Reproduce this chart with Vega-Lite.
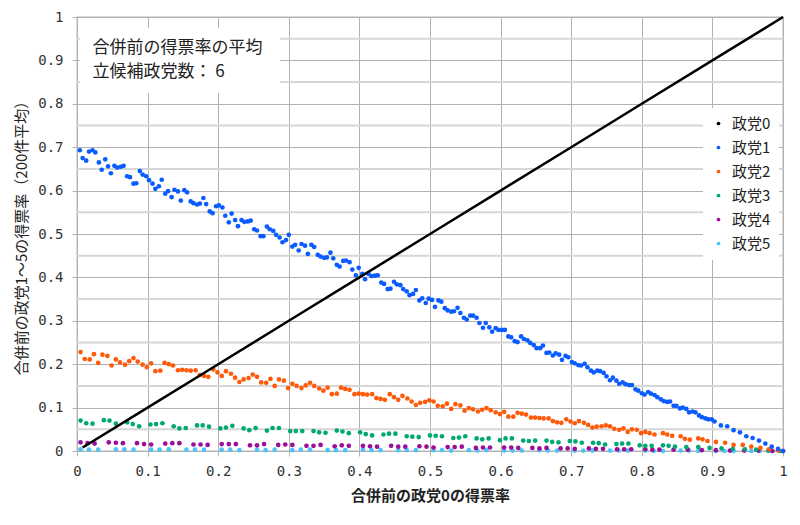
{
"$schema": "https://vega.github.io/schema/vega-lite/v6.json",
"width": 706,
"height": 434,
"autosize": {"type": "none"},
"padding": {"left": 77, "top": 17, "right": 17, "bottom": 74},
"background": "white",
"config": {"view": {"stroke": "#cfcfcf", "strokeWidth": 1.5}, "font": "Noto Sans CJK JP"},
"datasets": {
"minor": [{"mx": 0, "mx2": 1, "my": 0.05}, {"mx": 0, "mx2": 1, "my": 0.15}, {"mx": 0, "mx2": 1, "my": 0.25}, {"mx": 0, "mx2": 1, "my": 0.35}, {"mx": 0, "mx2": 1, "my": 0.45}, {"mx": 0, "mx2": 1, "my": 0.55}, {"mx": 0, "mx2": 1, "my": 0.65}, {"mx": 0, "mx2": 1, "my": 0.75}, {"mx": 0, "mx2": 1, "my": 0.85}, {"mx": 0, "mx2": 1, "my": 0.95}],
"box": [{"x": 0.004, "x2": 0.288, "y": 0.825, "y2": 0.975}],
"txt": [{"x": 0.022, "y": 0.929, "t": "合併前の得票率の平均"}, {"x": 0.022, "y": 0.873, "t": "立候補政党数： 6"}],
"line0": [{"x": 0.008, "y": 0.008}, {"x": 0.1, "y": 0.1}, {"x": 0.2, "y": 0.2}, {"x": 0.3, "y": 0.3}, {"x": 0.4, "y": 0.4}, {"x": 0.5, "y": 0.5}, {"x": 0.6, "y": 0.6}, {"x": 0.7, "y": 0.7}, {"x": 0.8, "y": 0.8}, {"x": 0.9, "y": 0.9}, {"x": 1.0, "y": 1.0}],
"pts": [
{"s":"政党5","x":0.005,"y":0.004},{"s":"政党5","x":0.030,"y":0.003},{"s":"政党5","x":0.055,"y":0.004},{"s":"政党5","x":0.080,"y":0.003},{"s":"政党5","x":0.105,"y":0.003},{"s":"政党5","x":0.130,"y":0.004},{"s":"政党5","x":0.155,"y":0.003},{"s":"政党5","x":0.180,"y":0.003},{"s":"政党5","x":0.205,"y":0.003},{"s":"政党5","x":0.230,"y":0.002},{"s":"政党5","x":0.255,"y":0.003},{"s":"政党5","x":0.280,"y":0.003},{"s":"政党5","x":0.305,"y":0.002},{"s":"政党5","x":0.330,"y":0.003},{"s":"政党5","x":0.355,"y":0.002},{"s":"政党5","x":0.380,"y":0.002},{"s":"政党5","x":0.405,"y":0.003},{"s":"政党5","x":0.430,"y":0.002},{"s":"政党5","x":0.455,"y":0.002},{"s":"政党5","x":0.480,"y":0.002},{"s":"政党5","x":0.505,"y":0.002},{"s":"政党5","x":0.530,"y":0.001},{"s":"政党5","x":0.555,"y":0.002},{"s":"政党5","x":0.580,"y":0.002},{"s":"政党5","x":0.605,"y":0.001},{"s":"政党5","x":0.630,"y":0.001},{"s":"政党5","x":0.655,"y":0.002},{"s":"政党5","x":0.680,"y":0.001},{"s":"政党5","x":0.705,"y":0.001},{"s":"政党5","x":0.730,"y":0.001},{"s":"政党5","x":0.755,"y":0.001},{"s":"政党5","x":0.780,"y":0.001},{"s":"政党5","x":0.805,"y":0.001},{"s":"政党5","x":0.830,"y":0.0},{"s":"政党5","x":0.855,"y":0.001},{"s":"政党5","x":0.880,"y":0.0},{"s":"政党5","x":0.905,"y":0.0},{"s":"政党5","x":0.930,"y":0.0},{"s":"政党5","x":0.955,"y":0.0},{"s":"政党5","x":0.980,"y":0.0},{"s":"政党5","x":1.0,"y":0.0},
{"s":"政党5","x":0.017,"y":0.003},{"s":"政党5","x":0.067,"y":0.004},{"s":"政党5","x":0.117,"y":0.003},{"s":"政党5","x":0.167,"y":0.003},{"s":"政党5","x":0.217,"y":0.003},{"s":"政党5","x":0.267,"y":0.002},{"s":"政党5","x":0.317,"y":0.003},{"s":"政党5","x":0.367,"y":0.002},{"s":"政党5","x":0.417,"y":0.002},{"s":"政党5","x":0.467,"y":0.002},{"s":"政党5","x":0.517,"y":0.002},{"s":"政党5","x":0.567,"y":0.001},{"s":"政党5","x":0.617,"y":0.001},{"s":"政党5","x":0.667,"y":0.001},{"s":"政党5","x":0.717,"y":0.001},{"s":"政党5","x":0.767,"y":0.001},{"s":"政党5","x":0.817,"y":0.0},{"s":"政党5","x":0.867,"y":0.001},{"s":"政党5","x":0.917,"y":0.0},{"s":"政党5","x":0.967,"y":0.0},
{"s":"政党4","x":0.005,"y":0.020},{"s":"政党4","x":0.025,"y":0.017},{"s":"政党4","x":0.045,"y":0.020},{"s":"政党4","x":0.065,"y":0.018},{"s":"政党4","x":0.085,"y":0.018},{"s":"政党4","x":0.105,"y":0.015},{"s":"政党4","x":0.125,"y":0.017},{"s":"政党4","x":0.145,"y":0.018},{"s":"政党4","x":0.165,"y":0.015},{"s":"政党4","x":0.185,"y":0.014},{"s":"政党4","x":0.205,"y":0.016},{"s":"政党4","x":0.225,"y":0.016},{"s":"政党4","x":0.245,"y":0.013},{"s":"政党4","x":0.265,"y":0.016},{"s":"政党4","x":0.285,"y":0.014},{"s":"政党4","x":0.305,"y":0.014},{"s":"政党4","x":0.325,"y":0.012},{"s":"政党4","x":0.345,"y":0.014},{"s":"政党4","x":0.365,"y":0.011},{"s":"政党4","x":0.385,"y":0.012},{"s":"政党4","x":0.405,"y":0.012},{"s":"政党4","x":0.425,"y":0.010},{"s":"政党4","x":0.445,"y":0.012},{"s":"政党4","x":0.465,"y":0.010},{"s":"政党4","x":0.485,"y":0.011},{"s":"政党4","x":0.505,"y":0.008},{"s":"政党4","x":0.525,"y":0.009},{"s":"政党4","x":0.545,"y":0.010},{"s":"政党4","x":0.565,"y":0.007},{"s":"政党4","x":0.585,"y":0.008},{"s":"政党4","x":0.605,"y":0.008},{"s":"政党4","x":0.625,"y":0.007},{"s":"政党4","x":0.645,"y":0.007},{"s":"政党4","x":0.665,"y":0.007},{"s":"政党4","x":0.685,"y":0.006},{"s":"政党4","x":0.705,"y":0.005},{"s":"政党4","x":0.725,"y":0.006},{"s":"政党4","x":0.745,"y":0.005},{"s":"政党4","x":0.765,"y":0.004},{"s":"政党4","x":0.785,"y":0.004},{"s":"政党4","x":0.805,"y":0.004},{"s":"政党4","x":0.825,"y":0.003},{"s":"政党4","x":0.845,"y":0.003},{"s":"政党4","x":0.865,"y":0.003},{"s":"政党4","x":0.885,"y":0.002},{"s":"政党4","x":0.905,"y":0.002},{"s":"政党4","x":0.925,"y":0.001},{"s":"政党4","x":0.945,"y":0.001},{"s":"政党4","x":0.965,"y":0.001},{"s":"政党4","x":0.985,"y":0.0},{"s":"政党4","x":1.0,"y":0.0},
{"s":"政党4","x":0.015,"y":0.018},{"s":"政党4","x":0.055,"y":0.019},{"s":"政党4","x":0.095,"y":0.016},{"s":"政党4","x":0.135,"y":0.018},{"s":"政党4","x":0.175,"y":0.015},{"s":"政党4","x":0.215,"y":0.016},{"s":"政党4","x":0.255,"y":0.013},{"s":"政党4","x":0.295,"y":0.015},{"s":"政党4","x":0.335,"y":0.012},{"s":"政党4","x":0.375,"y":0.013},{"s":"政党4","x":0.415,"y":0.011},{"s":"政党4","x":0.455,"y":0.010},{"s":"政党4","x":0.495,"y":0.010},{"s":"政党4","x":0.535,"y":0.009},{"s":"政党4","x":0.575,"y":0.008},{"s":"政党4","x":0.615,"y":0.008},{"s":"政党4","x":0.655,"y":0.006},{"s":"政党4","x":0.695,"y":0.006},{"s":"政党4","x":0.735,"y":0.005},{"s":"政党4","x":0.775,"y":0.004},{"s":"政党4","x":0.815,"y":0.003},
{"s":"政党3","x":0.005,"y":0.070},{"s":"政党3","x":0.022,"y":0.063},{"s":"政党3","x":0.038,"y":0.071},{"s":"政党3","x":0.055,"y":0.063},{"s":"政党3","x":0.071,"y":0.066},{"s":"政党3","x":0.088,"y":0.057},{"s":"政党3","x":0.104,"y":0.061},{"s":"政党3","x":0.121,"y":0.064},{"s":"政党3","x":0.137,"y":0.057},{"s":"政党3","x":0.154,"y":0.053},{"s":"政党3","x":0.170,"y":0.059},{"s":"政党3","x":0.187,"y":0.056},{"s":"政党3","x":0.203,"y":0.052},{"s":"政党3","x":0.220,"y":0.058},{"s":"政党3","x":0.236,"y":0.052},{"s":"政党3","x":0.253,"y":0.053},{"s":"政党3","x":0.269,"y":0.047},{"s":"政党3","x":0.286,"y":0.053},{"s":"政党3","x":0.302,"y":0.046},{"s":"政党3","x":0.319,"y":0.046},{"s":"政党3","x":0.335,"y":0.046},{"s":"政党3","x":0.352,"y":0.042},{"s":"政党3","x":0.368,"y":0.047},{"s":"政党3","x":0.385,"y":0.041},{"s":"政党3","x":0.401,"y":0.043},{"s":"政党3","x":0.418,"y":0.036},{"s":"政党3","x":0.434,"y":0.038},{"s":"政党3","x":0.451,"y":0.040},{"s":"政党3","x":0.467,"y":0.034},{"s":"政党3","x":0.484,"y":0.032},{"s":"政党3","x":0.500,"y":0.036},{"s":"政党3","x":0.517,"y":0.034},{"s":"政党3","x":0.533,"y":0.030},{"s":"政党3","x":0.550,"y":0.034},{"s":"政党3","x":0.566,"y":0.029},{"s":"政党3","x":0.583,"y":0.029},{"s":"政党3","x":0.599,"y":0.025},{"s":"政党3","x":0.616,"y":0.029},{"s":"政党3","x":0.632,"y":0.024},{"s":"政党3","x":0.649,"y":0.024},{"s":"政党3","x":0.665,"y":0.024},{"s":"政党3","x":0.682,"y":0.020},{"s":"政党3","x":0.698,"y":0.023},{"s":"政党3","x":0.715,"y":0.019},{"s":"政党3","x":0.731,"y":0.019},{"s":"政党3","x":0.748,"y":0.015},{"s":"政党3","x":0.764,"y":0.016},{"s":"政党3","x":0.781,"y":0.017},{"s":"政党3","x":0.797,"y":0.013},{"s":"政党3","x":0.814,"y":0.012},{"s":"政党3","x":0.830,"y":0.013},{"s":"政党3","x":0.847,"y":0.010},{"s":"政党3","x":0.863,"y":0.009},{"s":"政党3","x":0.880,"y":0.009},{"s":"政党3","x":0.896,"y":0.007},{"s":"政党3","x":0.913,"y":0.006},{"s":"政党3","x":0.929,"y":0.005},{"s":"政党3","x":0.946,"y":0.004},{"s":"政党3","x":0.962,"y":0.003},{"s":"政党3","x":0.979,"y":0.001},{"s":"政党3","x":0.995,"y":0.0},
{"s":"政党3","x":0.013,"y":0.064},{"s":"政党3","x":0.046,"y":0.070},{"s":"政党3","x":0.079,"y":0.062},{"s":"政党3","x":0.112,"y":0.062},{"s":"政党3","x":0.145,"y":0.052},{"s":"政党3","x":0.178,"y":0.059},{"s":"政党3","x":0.211,"y":0.054},{"s":"政党3","x":0.244,"y":0.048},{"s":"政党3","x":0.277,"y":0.053},{"s":"政党3","x":0.310,"y":0.046},{"s":"政党3","x":0.343,"y":0.043},{"s":"政党3","x":0.376,"y":0.045},{"s":"政党3","x":0.409,"y":0.039},{"s":"政党3","x":0.442,"y":0.040},{"s":"政党3","x":0.475,"y":0.033},{"s":"政党3","x":0.508,"y":0.035},{"s":"政党3","x":0.541,"y":0.031},{"s":"政党3","x":0.574,"y":0.027},{"s":"政党3","x":0.607,"y":0.029},{"s":"政党3","x":0.640,"y":0.023},{"s":"政党3","x":0.673,"y":0.021},{"s":"政党3","x":0.706,"y":0.022},{"s":"政党3","x":0.739,"y":0.018},{"s":"政党3","x":0.772,"y":0.017},{"s":"政党3","x":0.805,"y":0.012},{"s":"政党3","x":0.838,"y":0.012},
{"s":"政党2","x":0.005,"y":0.228},{"s":"政党2","x":0.018,"y":0.211},{"s":"政党2","x":0.030,"y":0.203},{"s":"政党2","x":0.043,"y":0.219},{"s":"政党2","x":0.055,"y":0.211},{"s":"政党2","x":0.068,"y":0.199},{"s":"政党2","x":0.080,"y":0.214},{"s":"政党2","x":0.093,"y":0.199},{"s":"政党2","x":0.105,"y":0.202},{"s":"政党2","x":0.118,"y":0.185},{"s":"政党2","x":0.130,"y":0.200},{"s":"政党2","x":0.143,"y":0.186},{"s":"政党2","x":0.155,"y":0.186},{"s":"政党2","x":0.168,"y":0.186},{"s":"政党2","x":0.180,"y":0.173},{"s":"政党2","x":0.193,"y":0.188},{"s":"政党2","x":0.205,"y":0.173},{"s":"政党2","x":0.218,"y":0.178},{"s":"政党2","x":0.230,"y":0.159},{"s":"政党2","x":0.243,"y":0.168},{"s":"政党2","x":0.255,"y":0.171},{"s":"政党2","x":0.268,"y":0.157},{"s":"政党2","x":0.280,"y":0.150},{"s":"政党2","x":0.293,"y":0.162},{"s":"政党2","x":0.305,"y":0.155},{"s":"政党2","x":0.318,"y":0.145},{"s":"政党2","x":0.330,"y":0.157},{"s":"政党2","x":0.343,"y":0.144},{"s":"政党2","x":0.355,"y":0.146},{"s":"政党2","x":0.368,"y":0.132},{"s":"政党2","x":0.380,"y":0.143},{"s":"政党2","x":0.393,"y":0.131},{"s":"政党2","x":0.405,"y":0.131},{"s":"政党2","x":0.418,"y":0.131},{"s":"政党2","x":0.430,"y":0.120},{"s":"政党2","x":0.443,"y":0.131},{"s":"政党2","x":0.455,"y":0.118},{"s":"政党2","x":0.468,"y":0.121},{"s":"政党2","x":0.480,"y":0.106},{"s":"政党2","x":0.493,"y":0.113},{"s":"政党2","x":0.505,"y":0.114},{"s":"政党2","x":0.518,"y":0.103},{"s":"政党2","x":0.530,"y":0.097},{"s":"政党2","x":0.543,"y":0.105},{"s":"政党2","x":0.555,"y":0.099},{"s":"政党2","x":0.568,"y":0.091},{"s":"政党2","x":0.580,"y":0.099},{"s":"政党2","x":0.593,"y":0.089},{"s":"政党2","x":0.605,"y":0.090},{"s":"政党2","x":0.618,"y":0.079},{"s":"政党2","x":0.630,"y":0.086},{"s":"政党2","x":0.643,"y":0.077},{"s":"政党2","x":0.655,"y":0.076},{"s":"政党2","x":0.668,"y":0.075},{"s":"政党2","x":0.680,"y":0.066},{"s":"政党2","x":0.693,"y":0.073},{"s":"政党2","x":0.705,"y":0.064},{"s":"政党2","x":0.718,"y":0.065},{"s":"政党2","x":0.730,"y":0.054},{"s":"政党2","x":0.743,"y":0.057},{"s":"政党2","x":0.755,"y":0.057},{"s":"政党2","x":0.768,"y":0.049},{"s":"政党2","x":0.780,"y":0.044},{"s":"政党2","x":0.793,"y":0.049},{"s":"政党2","x":0.805,"y":0.044},{"s":"政党2","x":0.818,"y":0.038},{"s":"政党2","x":0.830,"y":0.041},{"s":"政党2","x":0.843,"y":0.035},{"s":"政党2","x":0.855,"y":0.034},{"s":"政党2","x":0.868,"y":0.026},{"s":"政党2","x":0.880,"y":0.029},{"s":"政党2","x":0.893,"y":0.023},{"s":"政党2","x":0.905,"y":0.021},{"s":"政党2","x":0.918,"y":0.019},{"s":"政党2","x":0.930,"y":0.014},{"s":"政党2","x":0.943,"y":0.014},{"s":"政党2","x":0.955,"y":0.010},{"s":"政党2","x":0.968,"y":0.007},{"s":"政党2","x":0.980,"y":0.004},{"s":"政党2","x":0.993,"y":0.002},{"s":"政党2","x":1.0,"y":0.0},
{"s":"政党2","x":0.011,"y":0.212},{"s":"政党2","x":0.036,"y":0.222},{"s":"政党2","x":0.061,"y":0.204},{"s":"政党2","x":0.086,"y":0.206},{"s":"政党2","x":0.111,"y":0.184},{"s":"政党2","x":0.136,"y":0.197},{"s":"政党2","x":0.161,"y":0.185},{"s":"政党2","x":0.186,"y":0.171},{"s":"政党2","x":0.211,"y":0.184},{"s":"政党2","x":0.236,"y":0.165},{"s":"政党2","x":0.261,"y":0.158},{"s":"政党2","x":0.286,"y":0.165},{"s":"政党2","x":0.311,"y":0.150},{"s":"政党2","x":0.336,"y":0.150},{"s":"政党2","x":0.361,"y":0.131},{"s":"政党2","x":0.386,"y":0.141},{"s":"政党2","x":0.411,"y":0.130},{"s":"政党2","x":0.436,"y":0.118},{"s":"政党2","x":0.461,"y":0.127},{"s":"政党2","x":0.486,"y":0.111},{"s":"政党2","x":0.511,"y":0.104},{"s":"政党2","x":0.536,"y":0.108},{"s":"政党2","x":0.561,"y":0.096},{"s":"政党2","x":0.586,"y":0.094},{"s":"政党2","x":0.611,"y":0.079},{"s":"政党2","x":0.636,"y":0.084},{"s":"政党2","x":0.661,"y":0.075},{"s":"政党2","x":0.686,"y":0.065},{"s":"政党2","x":0.711,"y":0.069},{"s":"政党2","x":0.736,"y":0.056},{"s":"政党2","x":0.761,"y":0.051},{"s":"政党2","x":0.786,"y":0.050},{"s":"政党2","x":0.811,"y":0.041},{"s":"政党2","x":0.836,"y":0.038},{"s":"政党2","x":0.861,"y":0.028},{"s":"政党2","x":0.886,"y":0.027},
{"s":"政党2","x":0.024,"y":0.223},{"s":"政党2","x":0.049,"y":0.197},{"s":"政党2","x":0.074,"y":0.207},{"s":"政党2","x":0.099,"y":0.193},{"s":"政党2","x":0.124,"y":0.203},{"s":"政党2","x":0.149,"y":0.187},{"s":"政党2","x":0.174,"y":0.175},{"s":"政党2","x":0.199,"y":0.181},{"s":"政党2","x":0.224,"y":0.169},{"s":"政党2","x":0.249,"y":0.176},{"s":"政党2","x":0.274,"y":0.166},{"s":"政党2","x":0.299,"y":0.145},{"s":"政党2","x":0.324,"y":0.151},{"s":"政党2","x":0.349,"y":0.139},{"s":"政党2","x":0.374,"y":0.146},{"s":"政党2","x":0.399,"y":0.132},{"s":"政党2","x":0.424,"y":0.122},{"s":"政党2","x":0.449,"y":0.124},{"s":"政党2","x":0.474,"y":0.114},{"s":"政党2","x":0.499,"y":0.117},{"s":"政党2","x":0.524,"y":0.109},{"s":"政党2","x":0.549,"y":0.093},{"s":"政党2","x":0.574,"y":0.095},{"s":"政党2","x":0.599,"y":0.085},{"s":"政党2","x":0.624,"y":0.088},{"s":"政党2","x":0.649,"y":0.077},{"s":"政党2","x":0.674,"y":0.069},{"s":"政党2","x":0.699,"y":0.068},{"s":"政党2","x":0.724,"y":0.060},{"s":"政党2","x":0.749,"y":0.059},{"s":"政党2","x":0.774,"y":0.052},{"s":"政党2","x":0.799,"y":0.041},
{"s":"政党1","x":0.004,"y":0.693},{"s":"政党1","x":0.013,"y":0.669},{"s":"政党1","x":0.022,"y":0.693},{"s":"政党1","x":0.031,"y":0.665},{"s":"政党1","x":0.040,"y":0.672},{"s":"政党1","x":0.048,"y":0.640},{"s":"政党1","x":0.057,"y":0.653},{"s":"政党1","x":0.066,"y":0.657},{"s":"政党1","x":0.075,"y":0.631},{"s":"政党1","x":0.084,"y":0.617},{"s":"政党1","x":0.093,"y":0.637},{"s":"政党1","x":0.102,"y":0.624},{"s":"政党1","x":0.111,"y":0.604},{"s":"政党1","x":0.120,"y":0.625},{"s":"政党1","x":0.129,"y":0.599},{"s":"政党1","x":0.138,"y":0.602},{"s":"政党1","x":0.147,"y":0.577},{"s":"政党1","x":0.156,"y":0.596},{"s":"政党1","x":0.165,"y":0.571},{"s":"政党1","x":0.174,"y":0.570},{"s":"政党1","x":0.183,"y":0.569},{"s":"政党1","x":0.192,"y":0.548},{"s":"政党1","x":0.201,"y":0.566},{"s":"政党1","x":0.210,"y":0.542},{"s":"政党1","x":0.219,"y":0.547},{"s":"政党1","x":0.228,"y":0.518},{"s":"政党1","x":0.237,"y":0.528},{"s":"政党1","x":0.246,"y":0.531},{"s":"政党1","x":0.255,"y":0.508},{"s":"政党1","x":0.264,"y":0.495},{"s":"政党1","x":0.273,"y":0.511},{"s":"政党1","x":0.282,"y":0.498},{"s":"政党1","x":0.291,"y":0.481},{"s":"政党1","x":0.300,"y":0.498},{"s":"政党1","x":0.309,"y":0.475},{"s":"政党1","x":0.318,"y":0.477},{"s":"政党1","x":0.327,"y":0.454},{"s":"政党1","x":0.336,"y":0.470},{"s":"政党1","x":0.345,"y":0.448},{"s":"政党1","x":0.354,"y":0.446},{"s":"政党1","x":0.363,"y":0.444},{"s":"政党1","x":0.372,"y":0.425},{"s":"政党1","x":0.381,"y":0.439},{"s":"政党1","x":0.390,"y":0.418},{"s":"政党1","x":0.399,"y":0.422},{"s":"政党1","x":0.408,"y":0.396},{"s":"政党1","x":0.417,"y":0.403},{"s":"政党1","x":0.426,"y":0.405},{"s":"政党1","x":0.435,"y":0.385},{"s":"政党1","x":0.444,"y":0.374},{"s":"政党1","x":0.453,"y":0.384},{"s":"政党1","x":0.462,"y":0.373},{"s":"政党1","x":0.471,"y":0.359},{"s":"政党1","x":0.480,"y":0.371},{"s":"政党1","x":0.489,"y":0.352},{"s":"政党1","x":0.498,"y":0.351},{"s":"政党1","x":0.507,"y":0.332},{"s":"政党1","x":0.516,"y":0.344},{"s":"政党1","x":0.525,"y":0.324},{"s":"政党1","x":0.534,"y":0.322},{"s":"政党1","x":0.543,"y":0.318},{"s":"政党1","x":0.552,"y":0.303},{"s":"政党1","x":0.561,"y":0.312},{"s":"政党1","x":0.570,"y":0.295},{"s":"政党1","x":0.579,"y":0.295},{"s":"政党1","x":0.588,"y":0.275},{"s":"政党1","x":0.597,"y":0.279},{"s":"政党1","x":0.606,"y":0.279},{"s":"政党1","x":0.615,"y":0.262},{"s":"政党1","x":0.624,"y":0.251},{"s":"政党1","x":0.633,"y":0.258},{"s":"政党1","x":0.642,"y":0.249},{"s":"政党1","x":0.651,"y":0.237},{"s":"政党1","x":0.660,"y":0.243},{"s":"政党1","x":0.669,"y":0.227},{"s":"政党1","x":0.678,"y":0.225},{"s":"政党1","x":0.687,"y":0.210},{"s":"政党1","x":0.696,"y":0.216},{"s":"政党1","x":0.705,"y":0.202},{"s":"政党1","x":0.714,"y":0.197},{"s":"政党1","x":0.723,"y":0.193},{"s":"政党1","x":0.732,"y":0.181},{"s":"政党1","x":0.741,"y":0.184},{"s":"政党1","x":0.750,"y":0.172},{"s":"政党1","x":0.759,"y":0.169},{"s":"政党1","x":0.768,"y":0.155},{"s":"政党1","x":0.777,"y":0.154},{"s":"政党1","x":0.786,"y":0.152},{"s":"政党1","x":0.795,"y":0.139},{"s":"政党1","x":0.804,"y":0.130},{"s":"政党1","x":0.813,"y":0.132},{"s":"政党1","x":0.822,"y":0.124},{"s":"政党1","x":0.831,"y":0.115},{"s":"政党1","x":0.840,"y":0.114},{"s":"政党1","x":0.849,"y":0.104},{"s":"政党1","x":0.858,"y":0.100},{"s":"政党1","x":0.867,"y":0.089},{"s":"政党1","x":0.876,"y":0.089},{"s":"政党1","x":0.885,"y":0.078},{"s":"政党1","x":0.894,"y":0.073},{"s":"政党1","x":0.903,"y":0.068},{"s":"政党1","x":0.912,"y":0.059},{"s":"政党1","x":0.921,"y":0.057},{"s":"政党1","x":0.930,"y":0.048},{"s":"政党1","x":0.939,"y":0.043},{"s":"政党1","x":0.948,"y":0.034},{"s":"政党1","x":0.957,"y":0.030},{"s":"政党1","x":0.966,"y":0.024},{"s":"政党1","x":0.975,"y":0.017},{"s":"政党1","x":0.984,"y":0.010},{"s":"政党1","x":0.993,"y":0.005},{"s":"政党1","x":1.0,"y":0.0},
{"s":"政党1","x":0.008,"y":0.675},{"s":"政党1","x":0.026,"y":0.688},{"s":"政党1","x":0.044,"y":0.656},{"s":"政党1","x":0.062,"y":0.655},{"s":"政党1","x":0.080,"y":0.616},{"s":"政党1","x":0.098,"y":0.633},{"s":"政党1","x":0.116,"y":0.610},{"s":"政党1","x":0.134,"y":0.585},{"s":"政党1","x":0.152,"y":0.601},{"s":"政党1","x":0.170,"y":0.568},{"s":"政党1","x":0.188,"y":0.552},{"s":"政党1","x":0.206,"y":0.561},{"s":"政党1","x":0.224,"y":0.532},{"s":"政党1","x":0.242,"y":0.529},{"s":"政党1","x":0.260,"y":0.495},{"s":"政党1","x":0.278,"y":0.507},{"s":"政党1","x":0.296,"y":0.486},{"s":"政党1","x":0.314,"y":0.462},{"s":"政党1","x":0.332,"y":0.475},{"s":"政党1","x":0.350,"y":0.445},{"s":"政党1","x":0.368,"y":0.429},{"s":"政党1","x":0.386,"y":0.435},{"s":"政党1","x":0.404,"y":0.408},{"s":"政党1","x":0.422,"y":0.404},{"s":"政党1","x":0.440,"y":0.373},{"s":"政党1","x":0.458,"y":0.382},{"s":"政党1","x":0.476,"y":0.362},{"s":"政党1","x":0.494,"y":0.341},{"s":"政党1","x":0.512,"y":0.347},{"s":"政党1","x":0.530,"y":0.321},{"s":"政党1","x":0.548,"y":0.307},{"s":"政党1","x":0.566,"y":0.307},{"s":"政党1","x":0.584,"y":0.285},{"s":"政党1","x":0.602,"y":0.279},{"s":"政党1","x":0.620,"y":0.253},{"s":"政党1","x":0.638,"y":0.255},{"s":"政党1","x":0.656,"y":0.237},{"s":"政党1","x":0.674,"y":0.220},{"s":"政党1","x":0.692,"y":0.219},{"s":"政党1","x":0.710,"y":0.198},{"s":"政党1","x":0.728,"y":0.185},{"s":"政党1","x":0.746,"y":0.180},{"s":"政党1","x":0.764,"y":0.162},{"s":"政党1","x":0.782,"y":0.152},{"s":"政党1","x":0.800,"y":0.133},{"s":"政党1","x":0.818,"y":0.129},{"s":"政党1","x":0.836,"y":0.113},{"s":"政党1","x":0.854,"y":0.098},{"s":"政党1","x":0.872,"y":0.091},{"s":"政党1","x":0.890,"y":0.075},
{"s":"政党1","x":0.017,"y":0.690},{"s":"政党1","x":0.035,"y":0.648},{"s":"政党1","x":0.053,"y":0.657},{"s":"政党1","x":0.071,"y":0.633},{"s":"政党1","x":0.089,"y":0.645},{"s":"政党1","x":0.107,"y":0.616},{"s":"政党1","x":0.125,"y":0.593},{"s":"政党1","x":0.143,"y":0.598},{"s":"政党1","x":0.161,"y":0.575},{"s":"政党1","x":0.179,"y":0.583},{"s":"政党1","x":0.197,"y":0.564},{"s":"政党1","x":0.215,"y":0.527},{"s":"政党1","x":0.233,"y":0.532},{"s":"政党1","x":0.251,"y":0.511},{"s":"政党1","x":0.269,"y":0.517},{"s":"政党1","x":0.287,"y":0.492},{"s":"政党1","x":0.305,"y":0.471},{"s":"政党1","x":0.323,"y":0.473},{"s":"政党1","x":0.341,"y":0.452},{"s":"政党1","x":0.359,"y":0.457},{"s":"政党1","x":0.377,"y":0.438},{"s":"政党1","x":0.395,"y":0.405},{"s":"政党1","x":0.413,"y":0.408},{"s":"政党1","x":0.431,"y":0.388},{"s":"政党1","x":0.449,"y":0.390},{"s":"政党1","x":0.467,"y":0.368},{"s":"政党1","x":0.485,"y":0.347},{"s":"政党1","x":0.503,"y":0.348},{"s":"政党1","x":0.521,"y":0.329},{"s":"政党1","x":0.539,"y":0.330},{"s":"政党1","x":0.557,"y":0.312},{"s":"政党1","x":0.575,"y":0.284},{"s":"政党1","x":0.593,"y":0.283},{"s":"政党1","x":0.611,"y":0.264},{"s":"政党1","x":0.629,"y":0.264},{"s":"政党1","x":0.647,"y":0.244},{"s":"政党1","x":0.665,"y":0.226},{"s":"政党1","x":0.683,"y":0.222},{"s":"政党1","x":0.701,"y":0.205},{"s":"政党1","x":0.719,"y":0.201},{"s":"政党1","x":0.737,"y":0.185},{"s":"政党1","x":0.755,"y":0.163},{"s":"政党1","x":0.773,"y":0.158},{"s":"政党1","x":0.791,"y":0.142},{"s":"政党1","x":0.809,"y":0.136},{"s":"政党1","x":0.827,"y":0.119},{"s":"政党1","x":0.845,"y":0.104},{"s":"政党1","x":0.863,"y":0.097},{"s":"政党1","x":0.881,"y":0.082},{"s":"政党1","x":0.899,"y":0.073}
]
},
"layer": [
  {"data": {"name": "minor"}, "mark": {"type": "rule", "color": "#d6d6d6", "strokeWidth": 2},
   "encoding": {"x": {"field": "mx", "type": "quantitative", "scale": {"domain": [0, 1], "nice": false}},
                "x2": {"field": "mx2"},
                "y": {"field": "my", "type": "quantitative", "scale": {"domain": [0, 1], "nice": false}}}},
  {"data": {"name": "box"}, "mark": {"type": "rect", "fill": "white"},
   "encoding": {"x": {"field": "x", "type": "quantitative"}, "x2": {"field": "x2"}, "y": {"field": "y", "type": "quantitative"}, "y2": {"field": "y2"}}},
  {"data": {"name": "txt"}, "mark": {"type": "text", "align": "left", "baseline": "middle", "fontSize": 17, "font": "Noto Sans CJK JP", "color": "#222"},
   "encoding": {"x": {"field": "x", "type": "quantitative"}, "y": {"field": "y", "type": "quantitative"}, "text": {"field": "t"}}},
  {"data": {"name": "pts"}, "mark": {"type": "circle", "size": 22, "opacity": 1},
   "encoding": {
     "x": {"field": "x", "type": "quantitative",
       "axis": {"title": "合併前の政党0の得票率", "values": [0,0.1,0.2,0.3,0.4,0.5,0.6,0.7,0.8,0.9,1],
         "labelExpr": "round(datum.value*10)==0 ? '0' : round(datum.value*10)==10 ? '1' : '0.' + round(datum.value*10)",
         "grid": true, "gridColor": "#b2b2b2", "gridWidth": 1, "domainColor": "#b2b2b2", "tickColor": "#b2b2b2", "tickSize": 5,
         "labelFont": "DejaVu Sans Mono", "labelFontSize": 14, "labelColor": "#333", "labelPadding": 8, "labelFlush": false, "labelOverlap": false,
         "titleFont": "Noto Sans CJK JP", "titleFontSize": 15, "titleFontWeight": "bold", "titleColor": "#222", "titlePadding": 10}},
     "y": {"field": "y", "type": "quantitative",
       "axis": {"title": "合併前の政党1～5の得票率（200件平均）", "values": [0,0.1,0.2,0.3,0.4,0.5,0.6,0.7,0.8,0.9,1],
         "labelExpr": "round(datum.value*10)==0 ? '0' : round(datum.value*10)==10 ? '1' : '0.' + round(datum.value*10)",
         "grid": true, "gridColor": "#b2b2b2", "gridWidth": 1, "domainColor": "#b2b2b2", "tickColor": "#b2b2b2", "tickSize": 5,
         "labelFont": "DejaVu Sans Mono", "labelFontSize": 14, "labelColor": "#333", "labelPadding": 9, "labelFlush": false, "labelOverlap": false,
         "titleFont": "Noto Sans CJK JP", "titleFontSize": 15, "titleFontWeight": "normal", "titleColor": "#222", "titlePadding": 8}},
     "color": {"field": "s", "type": "nominal",
     "scale": {"domain": ["政党0","政党1","政党2","政党3","政党4","政党5"], "range": ["#000000","#0a5cff","#ff5a0a","#00a874","#9a0e9a","#4fc3f7"]},
     "legend": {"orient": "none", "legendX": 626, "legendY": 91, "title": null, "fillColor": "white", "padding": 8,
       "symbolType": "circle", "symbolSize": 14, "labelFont": "Noto Sans CJK JP", "labelFontSize": 15, "labelColor": "#222", "rowPadding": 8, "labelOffset": 6}}}},
  {"data": {"name": "line0"}, "mark": {"type": "line", "color": "black", "strokeWidth": 2.5},
   "encoding": {"x": {"field": "x", "type": "quantitative"}, "y": {"field": "y", "type": "quantitative"}}}
]
}
